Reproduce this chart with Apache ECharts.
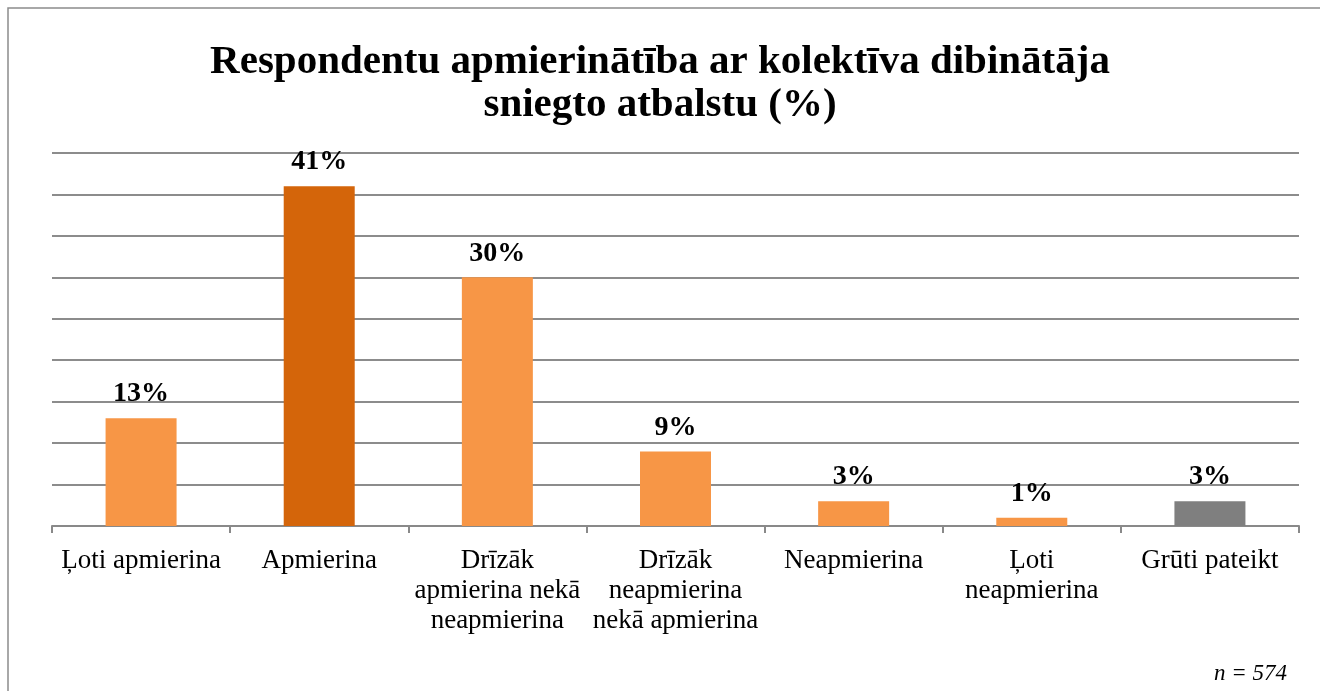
<!DOCTYPE html>
<html>
<head>
<meta charset="utf-8">
<style>
  html, body { margin: 0; padding: 0; background: #fff; }
  #chart { width: 1320px; height: 691px; }
</style>
<script src="https://cdn.jsdelivr.net/npm/echarts@6/dist/echarts.min.js"></script>
</head>
<body>
<div id="chart"></div>
<script>
  // data
  var categories = [
    'Ļoti apmierina',
    'Apmierina',
    'Drīzāk\napmierina nekā\nneapmierina',
    'Drīzāk\nneapmierina\nnekā apmierina',
    'Neapmierina',
    'Ļoti\nneapmierina',
    'Grūti pateikt'
  ]
  var values = [13, 41, 30, 9, 3, 1, 3]
  var barColors = ['#F79646', '#D4650A', '#F79646', '#F79646', '#F79646', '#F79646', '#7F7F7F']
  var titleText = 'Respondentu apmierinātība ar kolektīva dibinātāja\nsniegto atbalstu (%)'
  var noteText = 'n = 574'

  var serif = '"Liberation Serif", "DejaVu Serif", serif'
  var chart = echarts.init(document.getElementById('chart'))

  chart.setOption({
    animation: false,
    textStyle: { fontFamily: serif },
    title: {
      text: titleText,
      left: 'center',
      top: 36,
      textStyle: {
        fontFamily: serif,
        fontSize: 41,
        fontWeight: 'bold',
        color: '#000',
        lineHeight: 43
      }
    },
    graphic: [
      {
        type: 'rect',
        shape: { x: 8, y: 8, width: 1330, height: 700 },
        style: { fill: 'none', stroke: '#8c8c8c', lineWidth: 1.5 },
        silent: true
      },
      {
        type: 'text',
        right: 33,
        top: 662,
        style: {
          text: noteText,
          font: 'italic 23px ' + serif,
          fill: '#000'
        }
      }
    ],
    grid: {
      left: 52,
      right: 21,
      top: 153,
      bottom: 165
    },
    xAxis: {
      type: 'category',
      data: categories,
      axisLine: { lineStyle: { color: '#898989', width: 2 } },
      axisTick: { show: true, length: 7, lineStyle: { color: '#898989', width: 2 } },
      axisLabel: {
        interval: 0,
        margin: 20,
        color: '#000',
        fontFamily: serif,
        fontSize: 27,
        lineHeight: 30
      }
    },
    yAxis: {
      type: 'value',
      min: 0,
      max: 45,
      interval: 5,
      axisLabel: { show: false },
      axisLine: { show: false },
      axisTick: { show: false },
      splitLine: { lineStyle: { color: '#8c8c8c', width: 2 } }
    },
    series: [
      {
        type: 'bar',
        barWidth: 71,
        data: values.map(function (v, i) {
          return { value: v, itemStyle: { color: barColors[i] } }
        }),
        label: {
          show: true,
          position: 'top',
          distance: 10,
          formatter: '{c}%',
          color: '#000',
          fontFamily: serif,
          fontSize: 28,
          fontWeight: 'bold'
        }
      }
    ]
  })
</script>
</body>
</html>
